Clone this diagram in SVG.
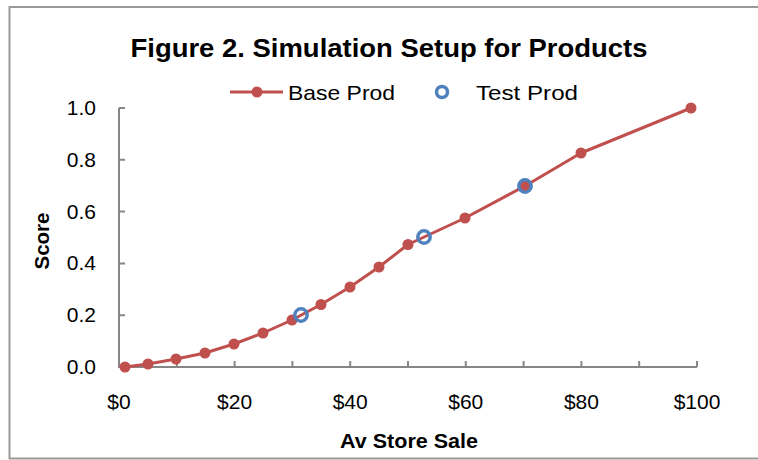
<svg xmlns="http://www.w3.org/2000/svg" width="758" height="460" viewBox="0 0 758 460">
<style>
text{font-family:"Liberation Sans",Arial,sans-serif;fill:#000}
.tk{font-size:21px}
.yl{text-anchor:end}
.xl{text-anchor:middle}
.b{font-weight:bold}
.ax{stroke:#868686;stroke-width:2;fill:none}
.dot{fill:#C0504D}
.ring{fill:none;stroke:#4F81BD;stroke-width:3.5}
</style>
<rect width="758" height="460" fill="#fff"/>
<g id="frame" fill="none" stroke="#999" stroke-width="2">
<path d="M758 7H9.5V458.5H758"/>
</g>
<g id="title"><text x="389" y="57" font-size="25" class="b xl" textLength="517" lengthAdjust="spacingAndGlyphs">Figure 2. Simulation Setup for Products</text></g>
<g id="legend">
<line x1="230" y1="92" x2="283" y2="92" stroke="#C0504D" stroke-width="3"/>
<circle class="dot" cx="257" cy="92" r="5.5"/>
<text x="288" y="100" font-size="21" textLength="107" lengthAdjust="spacingAndGlyphs">Base Prod</text>
<circle class="ring" cx="442" cy="92" r="5.5"/>
<text x="476" y="100" font-size="21" textLength="102" lengthAdjust="spacingAndGlyphs">Test Prod</text>
</g>
<g id="axes">
<path class="ax" d="M119 108V367H697"/>
<path class="ax" d="M119 108h6M119 159.8h6M119 211.6h6M119 263.4h6M119 315.2h6M176.8 367v-6M234.6 367v-6M292.4 367v-6M350.2 367v-6M408 367v-6M465.8 367v-6M523.6 367v-6M581.4 367v-6M639.2 367v-6M697 367v-6"/>
<text class="tk yl" x="96" y="115">1.0</text>
<text class="tk yl" x="96" y="167">0.8</text>
<text class="tk yl" x="96" y="219">0.6</text>
<text class="tk yl" x="96" y="270">0.4</text>
<text class="tk yl" x="96" y="322">0.2</text>
<text class="tk yl" x="96" y="374">0.0</text>
<text class="tk xl" x="119" y="409">$0</text>
<text class="tk xl" x="234.6" y="409">$20</text>
<text class="tk xl" x="350.2" y="409">$40</text>
<text class="tk xl" x="465.8" y="409">$60</text>
<text class="tk xl" x="581.4" y="409">$80</text>
<text class="tk xl" x="697" y="409">$100</text>
<text class="b xl" x="409" y="448" font-size="21" textLength="138" lengthAdjust="spacingAndGlyphs">Av Store Sale</text>
<text class="b xl" font-size="21" transform="translate(49 241) rotate(-90)" textLength="57" lengthAdjust="spacingAndGlyphs">Score</text>
</g>
<g id="connectors">
<polyline fill="none" stroke="#C0504D" stroke-width="3" stroke-linejoin="round" points="125,367 148,364 176,359 205,353 234,344 263,333 292,320 321,304.5 350,287 379,267 408,244.5 465,218 525,186 581,153 691,108"/>
</g>
<g id="base-prod">
<circle class="dot" cx="125" cy="367" r="5.5"/>
<circle class="dot" cx="148" cy="364" r="5.5"/>
<circle class="dot" cx="176" cy="359" r="5.5"/>
<circle class="dot" cx="205" cy="353" r="5.5"/>
<circle class="dot" cx="234" cy="344" r="5.5"/>
<circle class="dot" cx="263" cy="333" r="5.5"/>
<circle class="dot" cx="292" cy="320" r="5.5"/>
<circle class="dot" cx="321" cy="304.5" r="5.5"/>
<circle class="dot" cx="350" cy="287" r="5.5"/>
<circle class="dot" cx="379" cy="267" r="5.5"/>
<circle class="dot" cx="408" cy="244.5" r="5.5"/>
<circle class="dot" cx="465" cy="218" r="5.5"/>
<circle class="dot" cx="525" cy="186" r="5.5"/>
<circle class="dot" cx="581" cy="153" r="5.5"/>
<circle class="dot" cx="691" cy="108" r="5.5"/>
</g>
<g id="test-prod">
<circle class="ring" cx="301" cy="315" r="6.2"/>
<circle class="ring" cx="424" cy="237" r="6.2"/>
<circle class="ring" cx="525" cy="186" r="6.2"/>
</g>
</svg>
